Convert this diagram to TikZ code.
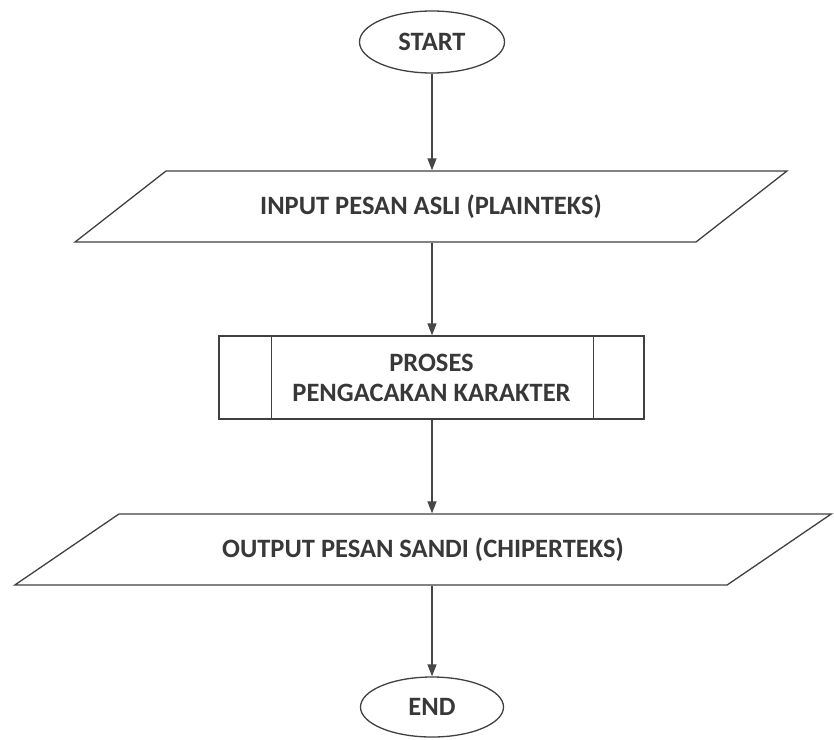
\documentclass[tikz,border=0pt]{standalone}
\usepackage{fontspec}
\setmainfont{Carlito}
\usetikzlibrary{arrows.meta,shapes.geometric}

\begin{document}
\begin{tikzpicture}[
	x=1pt, y=-1pt,
	font=\fontsize{26.5}{30}\selectfont\bfseries,
	every node/.style={text=black!78},
	terminal/.style={draw=black!75, line width=1.3pt, ellipse, minimum width=145pt, minimum height=62pt, inner sep=0pt},
	io/.style={draw=black!75, line width=1.3pt, trapezium, trapezium stretches=true, minimum height=71pt, inner sep=0pt},
	proc/.style={draw=black!75, line width=1.3pt, rectangle, align=center, minimum width=425pt, minimum height=83pt, inner sep=0pt},
	arr/.style={-{Triangle[length=12pt, width=9pt]}, line width=1.3pt, draw=black!72}
]
\useasboundingbox (0,0) rectangle (834,739);

% terminal awal
\node[terminal] (S) at (432,42) {START};

% input
\node[io, trapezium left angle=22, trapezium right angle=158, minimum width=716pt] (I) at (431,206.5) {INPUT PESAN ASLI (PLAINTEKS)};

% proses
\node[proc] (P) at (431.5,377.5) {PROSES\\PENGACAKAN KARAKTER};
\draw[draw=black!75, line width=1.3pt] ([xshift=53pt]P.north west) -- ([xshift=53pt]P.south west);
\draw[draw=black!75, line width=1.3pt] ([xshift=-51pt]P.north east) -- ([xshift=-51pt]P.south east);

% output
\node[io, trapezium left angle=19, trapezium right angle=161, minimum width=820pt] (O) at (423,549.5) {OUTPUT PESAN SANDI (CHIPERTEKS)};

% terminal akhir
\node[terminal, minimum width=143pt, minimum height=60pt] (E) at (432,707) {END};

% panah
\draw[arr] (S.south) -- (S.south |- I.north);
\draw[arr] (S.south |- I.south) -- (S.south |- P.north);
\draw[arr] (S.south |- P.south) -- (S.south |- O.north);
\draw[arr] (S.south |- O.south) -- (E.north);
\end{tikzpicture}
\end{document}
